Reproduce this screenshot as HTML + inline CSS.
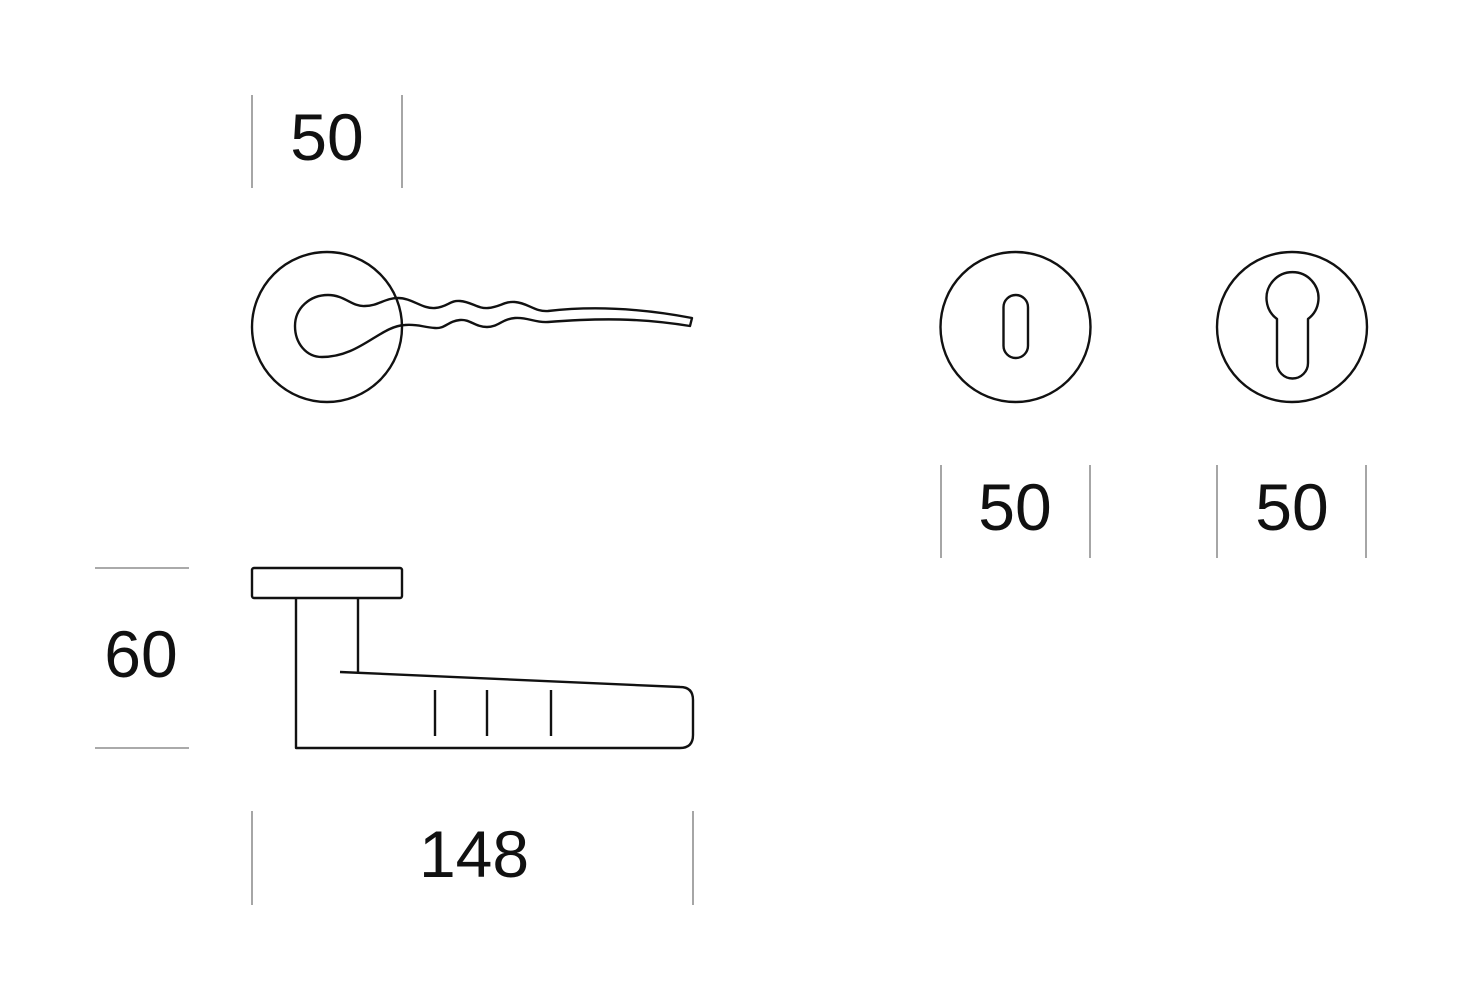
<!DOCTYPE html>
<html><head><style>
html,body{margin:0;padding:0;background:#fff;}
svg{display:block;}
text{font-family:"Liberation Sans",sans-serif;font-size:66px;fill:#111;text-anchor:middle;}
</style></head><body>
<svg width="1461" height="1000" viewBox="0 0 1461 1000">
<g stroke="#777" stroke-width="1.3">
<line x1="252" y1="95" x2="252" y2="188"/><line x1="402" y1="95" x2="402" y2="188"/>
<line x1="941" y1="465" x2="941" y2="558"/><line x1="1090" y1="465" x2="1090" y2="558"/>
<line x1="1217" y1="465" x2="1217" y2="558"/><line x1="1366" y1="465" x2="1366" y2="558"/>
<line x1="95" y1="568" x2="189" y2="568"/><line x1="95" y1="748" x2="189" y2="748"/>
<line x1="252" y1="811" x2="252" y2="905"/><line x1="693" y1="811" x2="693" y2="905"/>
</g>
<text x="327" y="160">50</text>
<text x="1015" y="530">50</text>
<text x="1292" y="530">50</text>
<text x="141" y="677">60</text>
<text x="474" y="877">148</text>
<g fill="none" stroke="#111" stroke-width="2.4" stroke-linejoin="round">
<circle cx="327" cy="327" r="75"/>
<path d="M328,295 C345,295 352,307 365,306 C378,306 385,298 398,298 C412,298 422,309 435,308 C448,307 450,300 460,301 C472,302 478,309 488,308 C500,307 505,301 515,302 C528,303 535,312 548,311 C600,305 650,310 692,318 L690,326 C640,318 600,318 548,322 C535,323 528,317 515,318 C502,319 498,327 487,327 C475,327 470,319 460,320 C448,321 445,329 435,328 C422,327 418,324 405,325 C380,326 360,357 322,357 C306,357 295,343 295,326 C295,308 310,295 328,295 Z"/>
<circle cx="1015.5" cy="327" r="75"/>
<rect x="1003.5" y="295" width="24.5" height="63" rx="12.25"/>
<circle cx="1292" cy="327" r="75"/>
<path d="M1277,319 A26,26 0 1 1 1308,319 L1308,363 A15.5,15.5 0 0 1 1277,363 Z"/>
<rect x="252" y="568" width="150" height="30" rx="2"/>
<path d="M296,598 L296,748 L680,748 Q693,748 693,735 L693,700 Q693,687 680,687 L340,672"/>
<line x1="358" y1="598" x2="358" y2="672"/>
<line x1="435" y1="690" x2="435" y2="736"/>
<line x1="487" y1="690" x2="487" y2="736"/>
<line x1="551" y1="690" x2="551" y2="736"/>
</g>
</svg>
</body></html>
